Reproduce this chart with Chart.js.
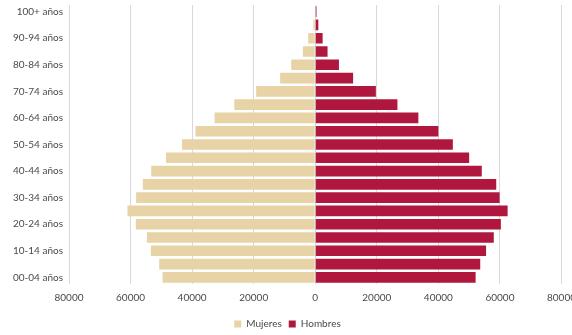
<!DOCTYPE html>
<html>
<head>
<meta charset="utf-8">
<script src="https://cdn.jsdelivr.net/npm/chart.js@4"></script>
<style>
html,body{margin:0;padding:0;background:#fff;overflow:hidden;width:572px;height:335px;}
#wrap{width:584px;height:346px;position:relative;margin-top:-7px;}
</style>
</head>
<body>
<div id="wrap"><canvas id="c"></canvas></div>
<script>
const ageGroups = ["00-04 años","05-09 años","10-14 años","15-19 años","20-24 años","25-29 años","30-34 años","35-39 años","40-44 años","45-49 años","50-54 años","55-59 años","60-64 años","65-69 años","70-74 años","75-79 años","80-84 años","85-89 años","90-94 años","95-99 años","100+ años"];
const mujeres = [49600,50700,53400,54700,58300,61000,58200,56000,53300,48500,43300,38900,32700,26300,19200,11400,7800,4000,2300,600,150];
const hombres = [52100,53600,55500,58000,60300,62500,59900,58800,54100,50000,44700,40000,33500,26700,19700,12300,7700,4000,2400,1000,400];
const xTicks = [-80000,-60000,-40000,-20000,0,20000,40000,60000,80000];

const txt = '#4A4A4A';
const fontFam = 'Lato, "Liberation Sans", sans-serif';

new Chart(document.getElementById('c'), {
  type: 'bar',
  data: {
    labels: ageGroups,
    datasets: [
      { label: 'Mujeres', data: mujeres.map(v => -v), backgroundColor: '#E7D3A5', borderWidth: 0 },
      { label: 'Hombres', data: hombres, backgroundColor: '#B0173F', borderWidth: 0 }
    ]
  },
  options: {
    indexAxis: 'y',
    responsive: true,
    maintainAspectRatio: false,
    animation: false,
    layout: { padding: { left: 0, right: 9, top: 0, bottom: 0 } },
    datasets: { bar: { barPercentage: 0.8, categoryPercentage: 1.0 } },
    scales: {
      x: {
        stacked: true,
        min: -80000, max: 80000,
        afterBuildTicks: s => { s.ticks = xTicks.map(v => ({ value: v })); },
        ticks: { color: txt, font: { family: fontFam, size: 10 }, padding: 8, callback: v => Math.abs(v) },
        grid: { color: '#D9D9D9', lineWidth: 1, drawTicks: false },
        border: { display: false }
      },
      y: {
        stacked: true,
        reverse: true,
        afterFit: s => { s.width = 69; },
        ticks: { color: txt, font: { family: fontFam, size: 10 }, padding: 6, autoSkip: false,
          callback: function(v, i) { return i % 2 === 0 ? this.getLabelForValue(v) : ''; } },
        grid: { display: false, drawTicks: false },
        border: { display: false }
      }
    },
    plugins: {
      tooltip: { enabled: false },
      legend: {
        position: 'bottom',
        labels: { color: txt, font: { family: fontFam, size: 10 }, boxWidth: 7, boxHeight: 7, padding: 7 }
      }
    }
  }
});
</script>
</body>
</html>
